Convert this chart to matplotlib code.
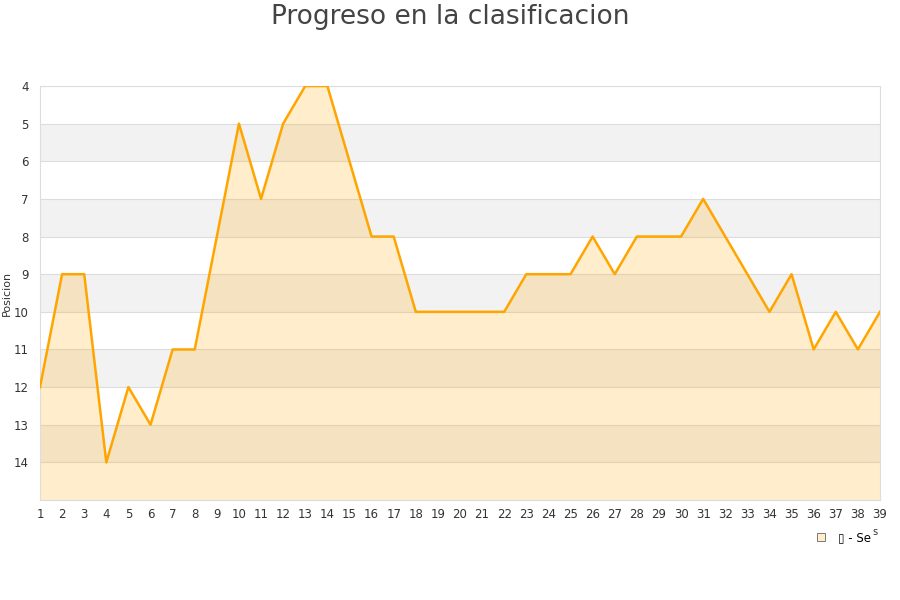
import matplotlib
matplotlib.use("Agg")
import matplotlib.pyplot as plt
from matplotlib.lines import Line2D

jornadas = list(range(1, 40))
posiciones = [12, 9, 9, 14, 12, 13, 11, 11, 8, 5, 7, 5, 4, 4, 6, 8, 8, 10, 10, 10,
              10, 10, 9, 9, 9, 8, 9, 8, 8, 8, 7, 8, 9, 10, 9, 11, 10, 11, 10]
y_ticks = list(range(4, 15))
title = "Progreso en la clasificacion"
y_label = "Posicion"
legend_label = "\u25af - Se"

fig = plt.figure(figsize=(9, 6), dpi=100)
ax = fig.add_axes([40/900, 100/600, 840/900, 414/600])

ymin, ymax = 4, 15
for k in range(ymin, ymax):
    if (k - ymin) % 2 == 1:
        ax.axhspan(k, k + 1, color="#F2F2F2", zorder=0, lw=0)
for k in range(ymin, ymax):
    ax.axhline(k, color="#DDDDDD", lw=0.8, zorder=1)

ax.fill_between(jornadas, posiciones, ymax, color="#FFA500", alpha=0.2, lw=0, zorder=2)
ax.plot(jornadas, posiciones, color="#FFA500", lw=1.8, zorder=3)

ax.set_xlim(1, 39)
ax.set_ylim(ymax, ymin)
ax.set_yticks(y_ticks)
ax.set_xticks(jornadas)
ax.tick_params(axis="both", length=0, labelsize=8.5, colors="#333333", pad=8)
ax.tick_params(axis="x", pad=6)
for s in ax.spines.values():
    s.set_color("#DDDDDD")
    s.set_linewidth(0.8)
ax.set_ylabel(y_label, fontsize=8, color="#333333")
ax.yaxis.set_label_coords(-0.034, 0.5)

fig.text(0.5, 0.993, title, ha="center", va="top", fontsize=19, color="#444444")

handle = Line2D([], [], marker="s", linestyle="none", markersize=6,
                markerfacecolor="#FFEDCC", markeredgecolor="#666666", markeredgewidth=0.6)
leg = fig.legend([handle], [legend_label], loc="center", bbox_to_anchor=(840/900, 1 - 538/600),
                 frameon=False, fontsize=8.5, handletextpad=0.4, borderpad=0)
fig.text(875/900, 1 - 532/600, "s", fontsize=7, color="#333333", ha="center", va="center")

fig.savefig("out.png", dpi=100)
